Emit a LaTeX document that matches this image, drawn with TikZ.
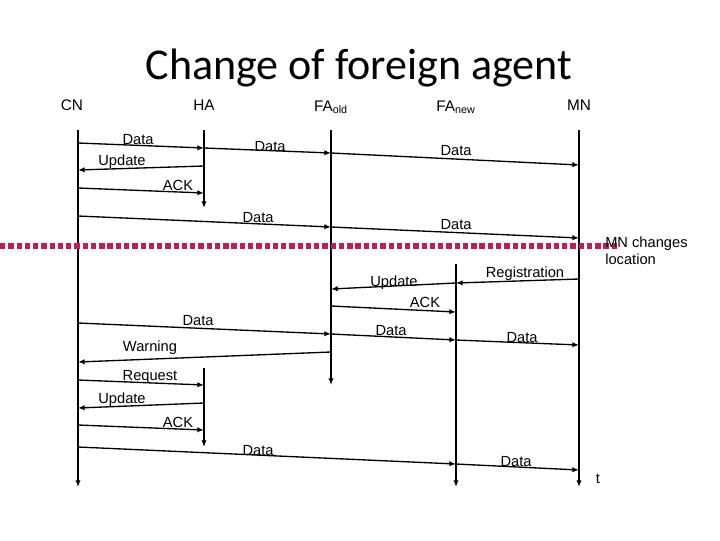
\documentclass[tikz,border=0pt]{standalone}
\usepackage{fontspec}
\setmainfont{Liberation Sans}
\newfontfamily\titlefont{Carlito}
\usetikzlibrary{arrows.meta}
\begin{document}
\begin{tikzpicture}[x=0.75pt,y=-0.75pt,
  life/.style={line width=1.1pt,-{Latex[length=5pt,width=4pt]}},
  msg/.style={line width=1pt,-{Latex[length=5pt,width=4pt]}},
  lbl/.style={font=\fontsize{11}{13}\selectfont,inner sep=0pt},
  hdr/.style={font=\fontsize{11.5}{13}\selectfont,inner sep=0pt}]
\useasboundingbox (0,0) rectangle (720,540);
\definecolor{dotred}{RGB}{190,30,85}
\node[font=\titlefont\fontsize{33}{38}\selectfont] (title) at (359,68) {Change of foreign agent};
\node[hdr] (hCN) at (72,105) {CN};
\node[hdr] (hHA) at (204,105) {HA};
\node[hdr] (hFO) at (331,107) {FA$_{\mathrm{old}}$};
\node[hdr] (hFN) at (456,107) {FA$_{\mathrm{new}}$};
\node[hdr] (hMN) at (579,105) {MN};
% lifelines
\coordinate (cn0) at (78,130); \coordinate (cn1) at (78,487);
\coordinate (ha0) at (204,130); \coordinate (ha1) at (204,208);
\coordinate (ha2) at (204,368); \coordinate (ha3) at (204,447);
\coordinate (fo0) at (331,130); \coordinate (fo1) at (331,385);
\coordinate (fn0) at (456,264); \coordinate (fn1) at (456,487);
\coordinate (mn0) at (579,130); \coordinate (mn1) at (579,487);
\draw[life] (cn0) -- (cn1);
\draw[life] (ha0) -- (ha1);
\draw[life] (ha2) -- (ha3);
\draw[life] (fo0) -- (fo1);
\draw[life] (fn0) -- (fn1);
\draw[life] (mn0) -- (mn1);
% dotted line
\coordinate (d0) at (0,246); \coordinate (d1) at (617,246);
\draw[dotred,line width=4pt,dash pattern=on 4pt off 2.2pt] (d0) -- (d1);
\node[lbl,align=left,anchor=west] (mnc) at (605,251) {MN changes\\location};
% messages
\newcommand\msgx[4]{\coordinate (a) at (#1); \coordinate (b) at (#2); \draw[msg] (a) -- (b); \node[lbl] at (#3) {#4};}
\msgx{78,143}{204,148}{138,140}{Data}
\msgx{204,148}{331,153}{270,147}{Data}
\msgx{331,153}{579,165}{456,151}{Data}
\msgx{204,166}{78,170}{122,162}{Update}
\msgx{78,188}{204,193}{178,185}{ACK}
\msgx{78,216}{331,227}{258,218}{Data}
\msgx{331,227}{579,238}{456,225}{Data}
\msgx{579,279}{456,283}{525,274}{Registration}
\msgx{456,283}{331,289}{394,283}{Update}
\msgx{331,306}{456,312}{425,302}{ACK}
\msgx{78,323}{331,334}{198,321}{Data}
\msgx{331,334}{456,340}{391,331}{Data}
\msgx{456,340}{579,345}{522,338}{Data}
\msgx{331,352}{78,362}{150,348}{Warning}
\msgx{78,380}{204,385}{150,377}{Request}
\msgx{204,403}{78,408}{122,400}{Update}
\msgx{78,425}{204,430}{178,422}{ACK}
\msgx{78,447}{456,464}{258,451}{Data}
\msgx{456,464}{579,470}{516,462}{Data}
\node[lbl] (t) at (598,479) {t};
\end{tikzpicture}
\end{document}
